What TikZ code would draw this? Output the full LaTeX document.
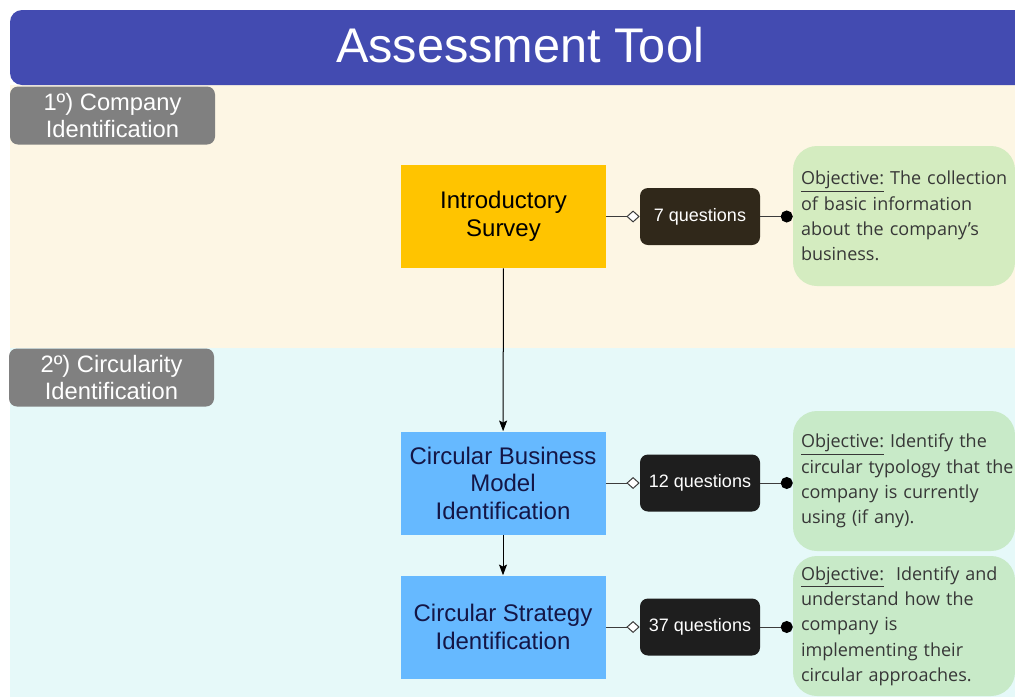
\documentclass[tikz,border=0pt]{standalone}
\usepackage{fontspec}
\setmainfont{Liberation Sans}
\newfontfamily\objfont{Open Sans}
\usetikzlibrary{arrows.meta}

\definecolor{titleblue}{RGB}{67,75,177}
\definecolor{bandbeige}{RGB}{253,246,228}
\definecolor{bandcyan}{RGB}{230,249,249}
\definecolor{labelgray}{RGB}{128,128,128}
\definecolor{surveyyellow}{RGB}{255,196,0}
\definecolor{modelblue}{RGB}{102,185,255}
\definecolor{navytext}{RGB}{20,22,70}
\definecolor{qbrown}{RGB}{48,40,26}
\definecolor{qblack}{RGB}{30,30,30}
\definecolor{objgreen}{RGB}{212,236,192}
\definecolor{objgreentwo}{RGB}{200,234,200}
\definecolor{objtext}{RGB}{55,55,55}
\definecolor{linkgray}{RGB}{60,60,60}

\begin{document}
\begin{tikzpicture}[x=0.75pt, y=-0.75pt]
    % Styles for boxes and lines
    \tikzstyle{stagelabel} = [rectangle, rounded corners=6pt, fill=labelgray, text=white, align=center, minimum width=153.75pt, minimum height=43.5pt, font=\fontsize{17.8}{20}\selectfont]
    \tikzstyle{mainbox} = [rectangle, align=center, minimum width=153.75pt, minimum height=77.25pt, font=\fontsize{18}{20.6}\selectfont]
    \tikzstyle{qbox} = [rectangle, rounded corners=6pt, text=white, align=center, minimum width=90pt, minimum height=42.75pt, font=\fontsize{13.5}{16}\selectfont]
    \tikzstyle{objbox} = [rectangle, rounded corners=18pt, text=objtext, align=left, text width=154.5pt, inner xsep=6pt, minimum height=105pt, font=\objfont\fontsize{13.5}{19}\selectfont]
    \tikzstyle{arrow} = [black, line width=0.75pt, -{Stealth[length=8pt, width=6pt, inset=1.5pt]}]
    \tikzstyle{qlink} = [linkgray, line width=0.75pt, -{Diamond[open, fill=white, length=10pt, width=9pt]}]
    \tikzstyle{objlink} = [linkgray, line width=0.75pt, -{Circle[length=9pt, fill=black, color=black]}]

    \useasboundingbox (0,0) rectangle (1015,697);

  % Background bands and title bar
    \fill[bandbeige] (10,85) rectangle (1015,348);
    \fill[bandcyan] (10,348) rectangle (1015,697);
    \fill[titleblue, rounded corners=9pt] (1015,10) -- (10,10) -- (10,85) -- (1015,85);
    \node[text=white, font=\fontsize{36.5}{40}\selectfont] (title) at (520,45) {Assessment Tool};

  % Stage labels
    \node[stagelabel] (stage1) at (112.5,115.5) {1º) Company\\Identification};
    \node[stagelabel] (stage2) at (111.5,377.5) {2º) Circularity\\Identification};

  % Main boxes
    \node[mainbox, fill=surveyyellow, text=black] (intro) at (503.5,216.5) {Introductory\\Survey};
    \node[mainbox, fill=modelblue, text=navytext] (cbm) at (503,483) {Circular Business\\Model\\Identification};
    \node[mainbox, fill=modelblue, text=navytext] (csi) at (503,627) {Circular Strategy\\Identification};

  % Question counters
    \node[qbox, fill=qbrown] (q7) at (700,216.5) {7 questions};
    \node[qbox, fill=qblack] (q12) at (700,483) {12 questions};
    \node[qbox, fill=qblack] (q37) at (700,627) {37 questions};

  % Objectives (long lines boxed so they are not rewrapped)
    \node[objbox, fill=objgreen] (obj1) at (904,216) {\mbox{\underline{Objective:} The collection}\\of basic information\\about the company’s\\business.};
    \node[objbox, fill=objgreentwo] (obj2) at (904,481) {\underline{Objective:} Identify the\\\mbox{circular typology that the}\\company is currently\\using (if any).};
    \node[objbox, fill=objgreentwo] (obj3) at (904,626) {\mbox{\underline{Objective:}\ \ Identify and}\\understand how the\\company is\\implementing their\\circular approaches.};

  % Connectors
    \draw[arrow] (intro) -- (cbm);
    \draw[arrow] (cbm) -- (csi);

    \draw[qlink] (intro) -- (q7);
    \draw[qlink] (cbm) -- (q12);
    \draw[qlink] (csi) -- (q37);

    \draw[objlink] (q7) -- (obj1.west |- q7);
    \draw[objlink] (q12) -- (obj2.west |- q12);
    \draw[objlink] (q37) -- (obj3.west |- q37);

\end{tikzpicture}
\end{document}
